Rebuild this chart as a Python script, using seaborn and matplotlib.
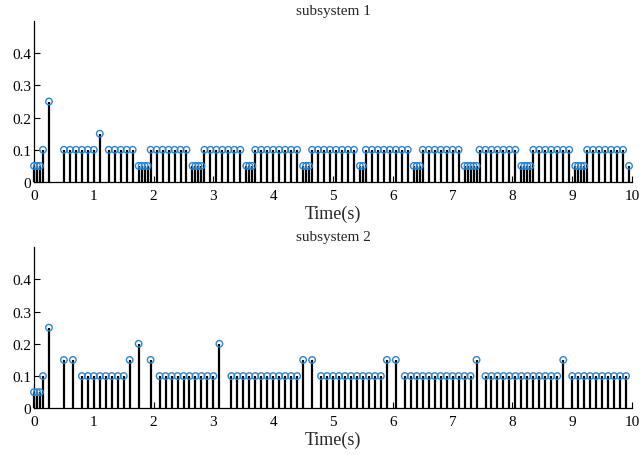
import numpy as np
import pandas as pd
import matplotlib
matplotlib.use("Agg")
import matplotlib.pyplot as plt
import seaborn as sns

# ---------------- data ----------------
t1 = [0.00, 0.05, 0.10, 0.15, 0.25,
      0.50, 0.60, 0.70, 0.80, 0.90, 1.00,
      1.10,
      1.25, 1.35, 1.45, 1.55, 1.65,
      1.75, 1.80, 1.85, 1.90,
      1.95, 2.05, 2.15, 2.25, 2.35, 2.45, 2.55,
      2.65, 2.70, 2.75, 2.80,
      2.85, 2.95, 3.05, 3.15, 3.25, 3.35, 3.45,
      3.55, 3.60, 3.65,
      3.70, 3.80, 3.90, 4.00, 4.10, 4.20, 4.30, 4.40,
      4.50, 4.55, 4.60,
      4.65, 4.75, 4.85, 4.95, 5.05, 5.15, 5.25, 5.35,
      5.45, 5.50,
      5.55, 5.65, 5.75, 5.85, 5.95, 6.05, 6.15, 6.25,
      6.35, 6.40, 6.45,
      6.50, 6.60, 6.70, 6.80, 6.90, 7.00, 7.10,
      7.20, 7.25, 7.30, 7.35, 7.40,
      7.45, 7.55, 7.65, 7.75, 7.85, 7.95, 8.05,
      8.15, 8.20, 8.25, 8.30,
      8.35, 8.45, 8.55, 8.65, 8.75, 8.85, 8.95,
      9.05, 9.10, 9.15, 9.20,
      9.25, 9.35, 9.45, 9.55, 9.65, 9.75, 9.85,
      9.95]
h1 = [0.05, 0.05, 0.05, 0.10, 0.25,
      0.10, 0.10, 0.10, 0.10, 0.10, 0.10,
      0.15,
      0.10, 0.10, 0.10, 0.10, 0.10,
      0.05, 0.05, 0.05, 0.05,
      0.10, 0.10, 0.10, 0.10, 0.10, 0.10, 0.10,
      0.05, 0.05, 0.05, 0.05,
      0.10, 0.10, 0.10, 0.10, 0.10, 0.10, 0.10,
      0.05, 0.05, 0.05,
      0.10, 0.10, 0.10, 0.10, 0.10, 0.10, 0.10, 0.10,
      0.05, 0.05, 0.05,
      0.10, 0.10, 0.10, 0.10, 0.10, 0.10, 0.10, 0.10,
      0.05, 0.05,
      0.10, 0.10, 0.10, 0.10, 0.10, 0.10, 0.10, 0.10,
      0.05, 0.05, 0.05,
      0.10, 0.10, 0.10, 0.10, 0.10, 0.10, 0.10,
      0.05, 0.05, 0.05, 0.05, 0.05,
      0.10, 0.10, 0.10, 0.10, 0.10, 0.10, 0.10,
      0.05, 0.05, 0.05, 0.05,
      0.10, 0.10, 0.10, 0.10, 0.10, 0.10, 0.10,
      0.05, 0.05, 0.05, 0.05,
      0.10, 0.10, 0.10, 0.10, 0.10, 0.10, 0.10,
      0.05]

t2 = [0.00, 0.05, 0.10, 0.15, 0.25, 0.50, 0.65,
      0.80, 0.90, 1.00, 1.10, 1.20, 1.30, 1.40, 1.50,
      1.60, 1.75, 1.95,
      2.10, 2.20, 2.30, 2.40, 2.50, 2.60, 2.70, 2.80, 2.90, 3.00,
      3.10,
      3.30, 3.40, 3.50, 3.60, 3.70, 3.80, 3.90, 4.00, 4.10, 4.20, 4.30, 4.40,
      4.50, 4.65,
      4.80, 4.90, 5.00, 5.10, 5.20, 5.30, 5.40, 5.50, 5.60, 5.70, 5.80,
      5.90, 6.05,
      6.20, 6.30, 6.40, 6.50, 6.60, 6.70, 6.80, 6.90, 7.00, 7.10, 7.20, 7.30,
      7.40,
      7.55, 7.65, 7.75, 7.85, 7.95, 8.05, 8.15, 8.25, 8.35, 8.45, 8.55, 8.65, 8.75,
      8.85,
      9.00, 9.10, 9.20, 9.30, 9.40, 9.50, 9.60, 9.70, 9.80, 9.90]
h2 = [0.05, 0.05, 0.05, 0.10, 0.25, 0.15, 0.15,
      0.10, 0.10, 0.10, 0.10, 0.10, 0.10, 0.10, 0.10,
      0.15, 0.20, 0.15,
      0.10, 0.10, 0.10, 0.10, 0.10, 0.10, 0.10, 0.10, 0.10, 0.10,
      0.20,
      0.10, 0.10, 0.10, 0.10, 0.10, 0.10, 0.10, 0.10, 0.10, 0.10, 0.10, 0.10,
      0.15, 0.15,
      0.10, 0.10, 0.10, 0.10, 0.10, 0.10, 0.10, 0.10, 0.10, 0.10, 0.10,
      0.15, 0.15,
      0.10, 0.10, 0.10, 0.10, 0.10, 0.10, 0.10, 0.10, 0.10, 0.10, 0.10, 0.10,
      0.15,
      0.10, 0.10, 0.10, 0.10, 0.10, 0.10, 0.10, 0.10, 0.10, 0.10, 0.10, 0.10, 0.10,
      0.15,
      0.10, 0.10, 0.10, 0.10, 0.10, 0.10, 0.10, 0.10, 0.10, 0.10]

titles = ["subsystem 1", "subsystem 2"]
xlabel = "Time(s)"
xticks = [0, 1, 2, 3, 4, 5, 6, 7, 8, 9, 10]
yticks = [0, 0.1, 0.2, 0.3, 0.4]
yticklabels = ["0", "0.1", "0.2", "0.3", "0.4"]

# ---------------- style ----------------
sns.set_theme(style="ticks")
plt.rcParams["font.family"] = ["Liberation Serif", "DejaVu Serif"]

fig = plt.figure(figsize=(6.44, 4.56), dpi=100)
ax1 = fig.add_axes([0.0528, 0.5987, 0.9286, 0.353])
ax2 = fig.add_axes([0.0528, 0.1024, 0.9286, 0.3537])

marker_color = "#2a86d1"

for ax, t, h, title in [(ax1, t1, h1, titles[0]), (ax2, t2, h2, titles[1])]:
    df = pd.DataFrame({"t": t, "h": h})
    ax.vlines(df["t"], 0, df["h"], color="black", linewidth=1.6, zorder=2,
              clip_on=False)
    sns.scatterplot(data=df, x="t", y="h", ax=ax, marker="o", s=22,
                    facecolor="none", edgecolor=marker_color, linewidth=1.0,
                    zorder=3, legend=False, clip_on=False)
    ax.set_xlim(0, 10)
    ax.set_ylim(0, 0.5)
    ax.set_xticks(xticks)
    ax.set_xticklabels([str(v) for v in xticks])
    ax.set_yticks(yticks)
    ax.set_yticklabels(yticklabels)
    ax.tick_params(direction="in", length=4, width=0.8, labelsize=11,
                   colors="black", pad=2)
    ax.tick_params(axis="x", pad=5)
    for s in ["top", "right"]:
        ax.spines[s].set_visible(False)
    for s in ["left", "bottom"]:
        ax.spines[s].set_color("black")
        ax.spines[s].set_linewidth(0.9)
    ax.set_xlabel(xlabel, fontsize=13, labelpad=2)
    ax.set_ylabel("")
    ax.set_title(title, fontsize=11, pad=5)
    ax.set_facecolor("white")

fig.savefig("out.png", dpi=100, facecolor="white")
